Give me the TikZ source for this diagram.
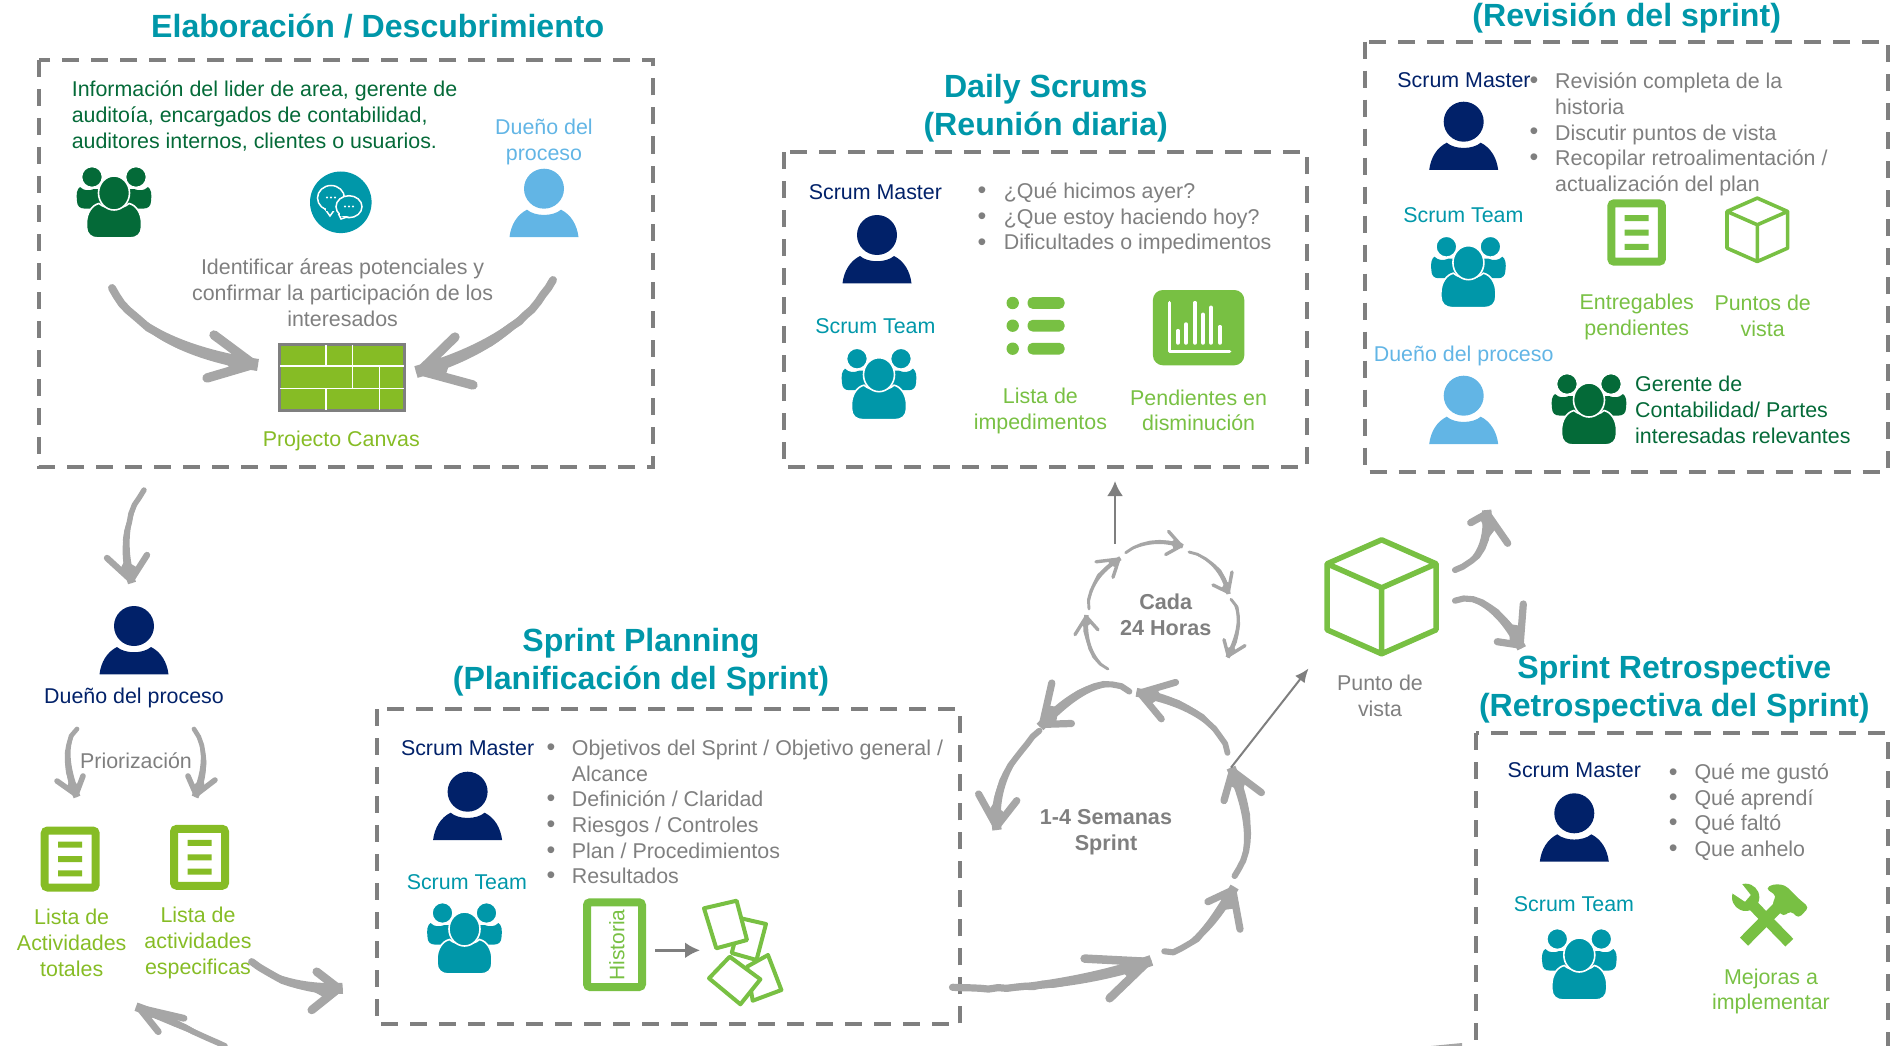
\documentclass[tikz,border=0pt]{standalone}
\usepackage{fontspec}
\setmainfont{Liberation Sans}
\usetikzlibrary{calc,arrows.meta,decorations.pathmorphing}
\definecolor{tealc}{HTML}{0097A9}
\definecolor{navyc}{HTML}{012169}
\definecolor{lblue}{HTML}{62B5E5}
\definecolor{dgreen}{HTML}{046A38}
\definecolor{lime}{HTML}{86BC25}
\definecolor{bgreen}{HTML}{78C043}
\definecolor{gtext}{HTML}{7F7F7F}
\definecolor{skc}{HTML}{A6A6A6}
\newcommand\sa{\rule{0pt}{16pt}}
\newcommand\sbb{\rule{0pt}{24pt}}
\pgfmathsetseed{7}
\tikzset{
 x=1pt,y=-1pt,
 lab/.style={inner sep=0pt,anchor=north,align=center,yshift=8.5pt,font=\fontsize{21.4}{25.7}\selectfont},
 labl/.style={inner sep=0pt,anchor=north west,align=left,yshift=8.5pt,font=\fontsize{21.4}{25.7}\selectfont},
 ttl/.style={inner sep=0pt,anchor=north,align=center,yshift=12.5pt,text=tealc,font=\bfseries\fontsize{32.1}{38}\selectfont},
 cyc/.style={inner sep=0pt,anchor=north,align=center,yshift=8.5pt,text=gtext,font=\bfseries\fontsize{21.6}{26}\selectfont},
 bul/.style={inner sep=0pt,text=gtext,yshift=-3.6pt,font=\fontsize{25}{26}\selectfont},
 dbox/.style={draw=gtext,line width=4pt,dash pattern=on 17pt off 12pt},
 sk/.style={draw=skc,line cap=round,line join=round},
 skr/.style={sk,decorate,decoration={random steps,segment length=9pt,amplitude=0.7pt}},
 skf/.style={fill=skc},
 plainar/.style={draw=gtext,-{Latex[length=15pt,width=16pt]}},
 pics/person/.style={code={
  \fill[#1] (0,0) ellipse[x radius=20,y radius=20];
  \fill[#1] (-34.5,48.3) .. controls (-33,36) and (-27,26) .. (-17,21)
     .. controls (-9,28) and (9,28) .. (17,21)
     .. controls (27,26) and (33,36) .. (34.5,48.3) -- cycle;
 }},
 pics/team/.style={code={
  \foreach \sx in {-1,1}{
   \begin{scope}[xscale=\sx]
   \fill[#1] (-37,8) .. controls (-38,1) and (-37,-4) .. (-34,-6)
     .. controls (-30,-2) and (-25,-2) .. (-20,-4) -- (-10,-4) -- (-10,15.5) -- (-30,15.5)
     .. controls (-34,15.5) and (-37,13) .. (-37,8) -- cycle;
   \filldraw[fill=#1,draw=white,line width=1.6pt] (-22,-16) ellipse[x radius=10.5,y radius=10.5];
   \end{scope}}
  \filldraw[fill=#1,draw=white,line width=1.6pt] (-27.5,30) .. controls (-27.5,20) and (-22,12) .. (-15,10.5)
     .. controls (-8,17) and (8,17) .. (15,10.5)
     .. controls (22,12) and (27.5,20) .. (27.5,30) -- (27.5,34)
     .. controls (27.5,41) and (23,45) .. (16,45) -- (-16,45)
     .. controls (-23,45) and (-27.5,41) .. (-27.5,34) -- cycle;
  \filldraw[fill=#1,draw=white,line width=1.6pt] (0,0) ellipse[x radius=15.5,y radius=17];
 }},
}
% sketched arrow: name, width, start, control, control, tip, barb, barb
\newcommand\ska[8]{%
 \coordinate (#1s) at (#3);\coordinate (#1a) at (#4);\coordinate (#1b) at (#5);
 \coordinate (#1t) at (#6);\coordinate (#1u) at (#7);\coordinate (#1v) at (#8);
 \coordinate (#1j) at ($(#1t)!#2*0.42pt!(#1b)$);
 \draw[skr,line width=#2*0.72pt] (#1s) .. controls (#1a) and (#1b) .. (#1j);
 \fill[skf] (#1s) .. controls ($(#1a)!#2*0.4pt!90:(#1b)$) and ($(#1b)!#2*0.55pt!90:(#1t)$) .. ($(#1t)!#2*0.55pt!-90:(#1b)$)
   -- ($(#1t)!#2*0.55pt!90:(#1b)$) .. controls ($(#1b)!#2*0.55pt!-90:(#1t)$) and ($(#1a)!#2*0.4pt!-90:(#1b)$) .. (#1s) -- cycle;
 \draw[sk,line width=#2*0.85pt] (#1u) -- (#1j) -- (#1v);
 \fill[skf] (#1t) -- ($(#1t)!.5!(#1u)$) -- ($(#1t)!#2*3.2pt!(#1b)$) -- ($(#1t)!.5!(#1v)$) -- cycle;
}
\newcommand\docico[5]{%
 \begin{scope}[shift={(#1,#2)}]
 \pgfmathsetmacro\hw{#3/2-4}\pgfmathsetmacro\hh{#4/2-4}
 \draw[#5,line width=8pt,rounded corners=3pt,fill=white] (-\hw,-\hh) rectangle (\hw,\hh);
 \fill[#5] (-12,-3) rectangle (12,3) (-12,-17.4) rectangle (12,-11.4) (-12,11.4) rectangle (12,17.4);
 \end{scope}}
\newcommand\cubeico[4]{%
 \begin{scope}[shift={(#1,#2)},scale=#3]
 \draw[bgreen,line width=#4,line join=round] (0,-57) -- (54.5,-33) -- (54.5,33) -- (0,57) -- (-54.5,33) -- (-54.5,-33) -- cycle
   (-54.5,-33) -- (0,-9) -- (54.5,-33) (0,-9) -- (0,57);
 \end{scope}}
\newcommand\card[4]{\filldraw[fill=white,draw=bgreen,line width=4pt,line join=round] (#1) -- (#2) -- (#3) -- (#4) -- cycle;}
\begin{document}
\begin{tikzpicture}
\useasboundingbox (0,0) rectangle (1904,1046);
% ---------- boxes
\draw[dbox] (39,60) rectangle (652.5,467);
\draw[dbox] (784.3,152.3) rectangle (1307,467.3);
\draw[dbox] (1365.2,41.7) rectangle (1887.5,472.3);
\draw[dbox] (377,709.3) rectangle (960,1024.3);
\draw[dbox] (1475.7,733.3) rectangle (1888,1120);
% ---------- titles
\node[ttl] (t1) at (377.7,26) {\sbb Elaboración / Descubrimiento};
\node[ttl] (t2) at (1045.7,86) {\sbb Daily Scrums\\(Reunión diaria)};
\node[ttl] (t3) at (1626.7,15) {\sbb (Revisión del sprint)};
\node[ttl] (t4) at (641,640) {\sbb Sprint Planning\\(Planificación del Sprint)};
\node[ttl] (t5) at (1674.3,666.5) {\sbb Sprint Retrospective\\(Retrospectiva del Sprint)};
% ---------- Elaboracion
\node[labl,text=dgreen] (e1) at (71.6,89) {\sa Información del lider de area, gerente de\\auditoía, encargados de contabilidad,\\auditores internos, clientes o usuarios.};
\node[lab,text=lblue] (e2) at (544,126.7) {\sa Dueño del\\proceso};
\pic (e3) at (114,193) {team=dgreen};
\pic (e4) at (544,188.7) {person=lblue};
% chat icon
\fill[tealc] (340.8,202.3) circle[radius=30.8];
\filldraw[fill=tealc,draw=white,line width=1.5pt] (331,198) ellipse[x radius=13.5,y radius=12.5];
\fill[tealc,draw=white,line width=1.5pt] (325,209) -- (330,216) -- (335,209) -- cycle;
\fill[tealc] (325.5,207) rectangle (336,211);
\filldraw[fill=tealc,draw=white,line width=1.5pt] (349,206.7) ellipse[x radius=13,y radius=11];
\fill[tealc,draw=white,line width=1.5pt] (339,215) -- (341,219) -- (347,217) -- cycle;
\fill[tealc] (340,213) rectangle (348,216);
\foreach \dx in {-4,0,4}{\fill[white] (331+\dx,197.5) circle[radius=1.2];\fill[white] (349+\dx,206.5) circle[radius=1.2];}
\node[lab,text=gtext] (e5) at (342.6,267) {\sa Identificar áreas potenciales y\\confirmar la participación de los\\interesados};
% canvas
\filldraw[fill=lime,draw=gtext,line width=3pt] (279,344.2) rectangle (404.8,410.2);
\draw[white,line width=1.6pt] (280,365.7) -- (404,365.7) (280,388.3) -- (404,388.3)
 (326,345) -- (326,365.7) (352.6,345) -- (352.6,388.3) (379.4,365.7) -- (379.4,409.5) (326,388.3) -- (326,409.5);
\ska{A}{11}{112,288}{134,327.7}{182.7,353.3}{258,365}{214,335}{207,378}
\ska{B}{11}{553,280}{528,322.7}{482.3,353.3}{416,372}{455,337}{473,385}
% ---------- left column
\ska{C}{7.5}{144,490}{125.3,517.7}{121.3,549}{132,583}{107,558}{147,555}
\pic (d1) at (134,626) {person=navyc};
\node[lab,text=navyc] (d2) at (134,695.5) {\sa Dueño del proceso};
\ska{D}{6.5}{77,729}{65,745}{65,766}{77,797}{57,781}{83,776}
\ska{E}{6.5}{194,729}{206,748}{206.7,770}{195,797}{188,776}{215,780}
\node[lab,text=gtext] (d3) at (136,761) {\sa Priorización};
\docico{70.2}{859}{59}{65}{lime}
\docico{199.5}{857.3}{59}{65}{lime}
\node[lab,text=lime] (d4) at (71.7,917) {\sa Lista de\\Actividades\\totales};
\node[lab,text=lime] (d5) at (198,915) {\sa Lista de\\actividades\\especificas};
\ska{F}{10}{251.7,961.7}{278,983}{312,990}{342.7,988.3}{316.7,971.7}{311.7,1010}
\ska{G}{8}{225,1046}{195,1033}{165,1017}{136,1006.7}{184,1018.3}{158.3,1031.7}
\node[lab,text=lime] (e6) at (341.3,439) {\sa Projecto Canvas};
% ---------- Sprint planning
\node[lab,text=navyc] (p1) at (467.6,747.7) {\sa Scrum Master};
\pic (p2) at (467.6,791.7) {person=navyc};
\node[lab,text=tealc] (p3) at (466.8,881.7) {\sa Scrum Team};
\pic (p4) at (464.5,929) {team=tealc};
\foreach \yy in {745.7,796.7,823,848.7,874}{\node[bul] at (551,\yy) {•};}
\node[labl,text=gtext] (p5) at (571.7,747.7) {\sa Objetivos del Sprint / Objetivo general /\\Alcance\\Definición / Claridad\\Riesgos / Controles\\Plan / Procedimientos\\Resultados};
\draw[bgreen,line width=8pt,rounded corners=3pt] (587,902.3) rectangle (642,987);
\node[inner sep=0pt,rotate=90,text=bgreen,font=\fontsize{21}{26}\selectfont] (p6) at (616.8,945) {Historia};
\coordinate (h1) at (655,950.3);\coordinate (h2) at (700,950.3);
\draw[plainar,line width=2.5pt] (h1) -- (h2);
\card{741,918.3}{766,924}{756.5,960}{731.7,953}
\card{747,966.7}{768,955}{781.4,990}{752.7,1000.7}
\card{729.7,956.7}{760.4,979.3}{740.4,1004.3}{709,978.3}
\card{704,908.3}{736.6,900.7}{747,940}{716.3,948.3}
% ---------- Daily
\node[lab,text=navyc] (s1) at (875.4,191.7) {\sa Scrum Master};
\pic (s2) at (877,235) {person=navyc};
\node[lab,text=tealc] (s3) at (875.4,326) {\sa Scrum Team};
\pic (s4) at (879,374.7) {team=tealc};
\foreach \yy in {188.7,214.7,240.7}{\node[bul] at (982,\yy) {•};}
\node[labl,text=gtext] (s5) at (1003.6,190.7) {\sa ¿Qué hicimos ayer?\\¿Que estoy haciendo hoy?\\Dificultades o impedimentos};
\foreach \yy in {303,325.7,348.7}{
 \fill[bgreen] (1012.7,\yy) circle[radius=6.2];
 \fill[bgreen,rounded corners=5pt] (1027.5,\yy-5.8) rectangle (1064.6,\yy+5.8);}
\fill[bgreen,rounded corners=10pt] (1152.9,290) rectangle (1244.3,365.3);
\draw[white,line width=3.5pt,line cap=round,line join=round] (1169.3,302.7) -- (1169.3,351.7) -- (1229.6,351.7);
\foreach \bx/\by in {1178/330.7,1186/324,1195/302.7,1203/314.3,1211/307.3,1220/326.7}{
 \draw[white,line width=3.5pt,line cap=round] (\bx,\by) -- (\bx,343);}
\node[lab,text=bgreen] (s6) at (1040.4,396) {\sa Lista de\\impedimentos};
\node[lab,text=bgreen] (s7) at (1198.6,397.3) {\sa Pendientes en\\disminución};
% ---------- Review
\node[lab,text=navyc] (r1) at (1464,80) {\sa Scrum Master};
\pic (r2) at (1463.7,121.7) {person=navyc};
\node[lab,text=tealc] (r3) at (1463.4,215) {\sa Scrum Team};
\pic (r4) at (1468.4,262.7) {team=tealc};
\node[lab,text=lblue] (r5) at (1463.7,354) {\sa Dueño del proceso};
\pic (r6) at (1463.7,395.7) {person=lblue};
\pic (r7) at (1589,400) {team=dgreen};
\node[labl,text=dgreen] (r8) at (1635,384) {\sa Gerente de\\Contabilidad/ Partes\\interesadas relevantes};
\foreach \yy in {79,130,155.7}{\node[bul] at (1534,\yy) {•};}
\node[labl,text=gtext] (r9) at (1555,81) {\sa Revisión completa de la\\historia\\Discutir puntos de vista\\Recopilar retroalimentación /\\actualización del plan};
\docico{1636.6}{232.5}{58.7}{66.4}{bgreen}
\cubeico{1757.3}{229.8}{0.556}{3.6pt}
\node[lab,text=bgreen] (r10) at (1636.8,301.7) {\sa Entregables\\pendientes};
\node[lab,text=bgreen] (r11) at (1762.7,302.7) {\sa Puntos de\\vista};
% ---------- Retrospective
\node[lab,text=navyc] (q1) at (1574.3,769.3) {\sa Scrum Master};
\pic (q2) at (1574.3,813.3) {person=navyc};
\node[lab,text=tealc] (q3) at (1574,904) {\sa Scrum Team};
\pic (q4) at (1579.3,955) {team=tealc};
\foreach \yy in {770.7,795.7,821.3,847}{\node[bul] at (1673.3,\yy) {•};}
\node[labl,text=gtext] (q5) at (1694.3,771.7) {\sa Qué me gustó\\Qué aprendí\\Qué faltó\\Que anhelo};
\begin{scope}[shift={(1420,640)},scale=1/3]
 \draw[bgreen,line width=11pt] (1108,908) -- (995,792);
 \fill[bgreen] (977,772) circle[radius=41];
 \fill[white] (925,752) -- (958,722) -- (992,765) -- (975,785) -- cycle;
 \draw[bgreen,line width=11.5pt] (972,905) -- (1090,785);
 \fill[bgreen,rounded corners=4pt] (1037,745) -- (1060,732) -- (1095,735) -- (1135,775) -- (1167,802) -- (1135,835) -- (1112,812) -- (1090,830) -- (1055,790) -- (1070,768) -- cycle;
\end{scope}
\node[lab,text=bgreen] (q6) at (1771,976.3) {\sa Mejoras a\\implementar};
% ---------- cycles
\coordinate (u1) at (1115,543.5);\coordinate (u2) at (1115,481);
\draw[plainar,line width=2.5pt] (u1) -- (u2);
\ska{a1}{4}{1125.7,552.7}{1144.4,541.6}{1163.2,539}{1182.9,546.4}{1168.6,531.4}{1165.7,554.5}
\ska{a2}{4}{1189,552}{1210.5,558.5}{1223.7,572.5}{1228.6,594}{1232,572}{1213,585}
\ska{a3}{4}{1231,599.3}{1241.5,613.5}{1240.5,632}{1227.5,657.4}{1224,639.7}{1245,645.6}
\ska{a4}{4}{1107.9,669}{1091,657}{1084,638.7}{1086.4,615}{1075,634.6}{1098,629.8}
\ska{a5}{4}{1089,608.9}{1089.2,587.5}{1099,570.9}{1120.4,558.2}{1096,561.8}{1113,577.3}
\node[cyc] (c1) at (1165.7,602) {\sa Cada\\24 Horas};
\ska{b1}{8}{1227.5,752.9}{1217.5,722}{1186.8,701.5}{1136.4,692.3}{1175.7,682.3}{1161.4,719}
\ska{b2}{8.5}{1129.3,691.5}{1107,676}{1077,687.6}{1040,727}{1051.8,683}{1071.4,723.5}
\ska{b3}{8.5}{1039.3,730.8}{1006.8,761.4}{992.6,794.5}{997,830}{978.6,794}{1016.8,800.6}
\ska{b4}{10}{952.5,987.3}{1010,992}{1090,982}{1151.4,960.4}{1084.6,958.6}{1109.6,998.3}
\ska{b5}{8.5}{1164.3,951.3}{1194,953}{1217.9,915}{1234.6,887}{1207.9,901.7}{1240,929.2}
\ska{b6}{8.5}{1234.6,876}{1252,851}{1251.8,814.7}{1231,767.6}{1224,800.6}{1261.4,792.6}
\node[cyc] (c2) at (1106,817) {\sa 1-4 Semanas\\Sprint};
\coordinate (pv) at (1308.6,668.4);
\draw[plainar,-{Latex[length=14pt,width=12pt]},line width=2pt] (b6t) -- (pv);
% ---------- central cube
\cubeico{1381.6}{596.8}{1}{5.5pt}
\node[lab,text=gtext] (c3) at (1380,683) {\sa Punto de\\vista};
\ska{k1}{8.5}{1455,570}{1475,563}{1490,545}{1486.7,510}{1470.7,522.7}{1507.7,543.3}
\ska{k2}{8.5}{1455,600.7}{1480,594}{1505,615}{1521.7,648.3}{1523.3,604}{1497.3,641.7}
\fill[skc] (1431,1046) -- (1462,1043) -- (1462,1046) -- cycle;
\end{tikzpicture}
\end{document}
